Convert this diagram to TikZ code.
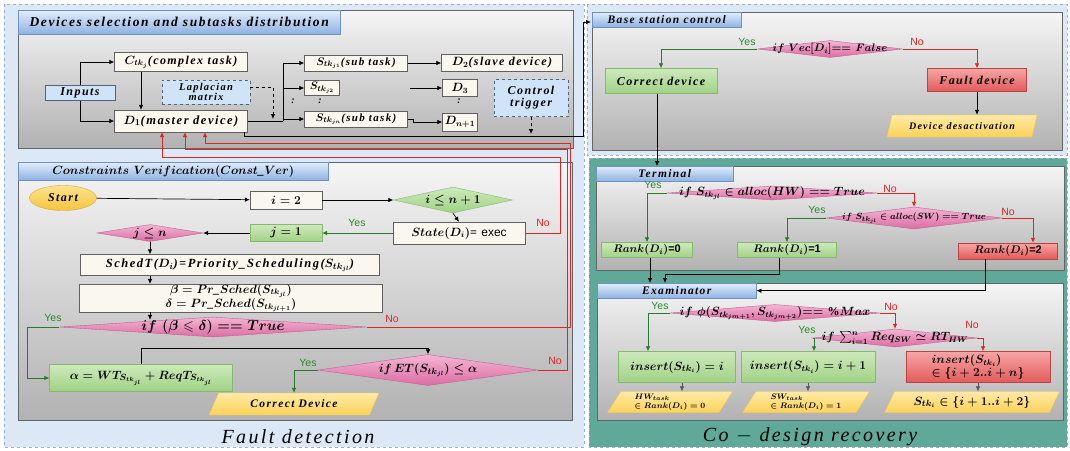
\documentclass[tikz,border=0pt]{standalone}
\usepackage{amsmath,amssymb}
\usepackage{fontspec}
\setmainfont{Liberation Serif}[LetterSpace=12]
\setsansfont{Liberation Sans}
\usetikzlibrary{shapes.geometric,arrows.meta,calc}

\definecolor{zonebg}{HTML}{DCE8F6}
\definecolor{zoneline}{HTML}{9AB0CC}
\definecolor{teal}{HTML}{60A898}
\definecolor{panelTop}{HTML}{F5F5F5}
\definecolor{panelBot}{HTML}{B2B2B2}
\definecolor{tabTop}{HTML}{E2EDFB}
\definecolor{tabBot}{HTML}{8DB2E2}
\definecolor{tabline}{HTML}{7090C0}
\definecolor{cream}{HTML}{F9F7EE}
\definecolor{boxline}{HTML}{606060}
\definecolor{lblue}{HTML}{CFE3F9}
\definecolor{lbline}{HTML}{50647E}
\definecolor{gTop}{HTML}{CDE9BB}
\definecolor{gBot}{HTML}{A0D285}
\definecolor{gline}{HTML}{86B870}
\definecolor{pTop}{HTML}{F4B5D3}
\definecolor{pBot}{HTML}{DC6CA4}
\definecolor{pline}{HTML}{C0608F}
\definecolor{rTop}{HTML}{F7A5A5}
\definecolor{rBot}{HTML}{E35A5A}
\definecolor{rline}{HTML}{B84444}
\definecolor{yTop}{HTML}{FFE9A6}
\definecolor{yBot}{HTML}{FCD258}
\definecolor{yelline}{HTML}{F0C850}
\definecolor{sTop}{HTML}{FDE38E}
\definecolor{sBot}{HTML}{F6C43E}
\definecolor{sline}{HTML}{D9A53A}
\definecolor{yesline}{HTML}{2B7A2B}
\definecolor{yestext}{HTML}{2A8A2A}
\definecolor{noline}{HTML}{E02424}

\newcommand\fsz[1]{\fontsize{#1}{#1}\selectfont\bfseries\itshape\boldmath}
\newcommand\nodefont{\fsz{12}}
\newcommand\smallfont{\fsz{8.5}}
\newcommand\tabfont{\fsz{12}}
\newcommand\ynfont{\fontsize{10.5}{11}\selectfont\sffamily}
\newcommand\bigfont{\fontsize{20}{24}\selectfont\itshape}

\tikzset{
  arr/.style={-{Latex[length=5pt,width=4.5pt]},line width=0.7pt},
  yes/.style={arr,draw=yesline},
  no/.style={arr,draw=noline},
  zone/.style={draw=zoneline,dashed,fill=zonebg},
  tzone/.style={draw=zoneline,dashed,fill=teal},
  panel/.style={draw=gray!80!black,top color=panelTop,bottom color=panelBot},
  tab/.style={rectangle,draw=tabline,top color=tabTop,bottom color=tabBot,anchor=north west,inner sep=0pt,font=\tabfont},
  box/.style={rectangle,draw=boxline,fill=cream,inner sep=1pt,font=\nodefont,align=center},
  lbox/.style={box,fill=lblue,dashed,draw=lbline},
  gbox/.style={box,draw=gline,top color=gTop,bottom color=gBot},
  rbox/.style={box,draw=rline,top color=rTop,bottom color=rBot},
  pdiam/.style={diamond,draw=pline,top color=pTop,bottom color=pBot,inner sep=0pt},
  gdiam/.style={diamond,draw=gline,top color=gTop,bottom color=gBot,inner sep=0pt},
  dtext/.style={font=\nodefont,inner sep=0pt},
  para/.style={trapezium,trapezium left angle=50,trapezium right angle=130,trapezium stretches body,draw=yelline,top color=yTop,bottom color=yBot,inner sep=0pt,font=\nodefont,align=left},
  yn/.style={font=\ynfont,inner sep=0pt},
  dots/.style={inner sep=0pt,font=\fsz{10}}
}

\begin{document}
\begin{tikzpicture}[x=1pt,y=-1pt]
  \useasboundingbox (0,0) rectangle (1070,450);

  \draw [zone] (4,4) rectangle (584,447);
  \draw [zone] (587,4) rectangle (1067,155);
  \draw [tzone] (589,158) rectangle (1067,447);
  \draw [panel] (18,10) rectangle (573,148);
  \draw [panel] (18,162) rectangle (572,420);
  \draw [panel] (592,12) rectangle (1062,150);
  \draw [panel] (596,166) rectangle (1064,270);
  \draw [panel] (597,283) rectangle (1063,420);

  \node (DevTab) [tab,minimum width=322,minimum height=24,font=\fontsize{13.5}{15}\selectfont\bfseries\itshape] at (18,10) {Devices selection and subtasks distribution};
  \node (ConTab) [tab,minimum width=310,minimum height=18,font=\fsz{12.5}] at (18,162) {$Constraints\ Verification(Const\_Ver)$};
  \node (BaseTab) [tab,minimum width=149,minimum height=15,font=\fsz{11.5}] at (592,12) {Base station control};
  \node (TermTab) [tab,minimum width=137,minimum height=15,font=\fsz{11.5}] at (596,166) {Terminal};
  \node (ExamTab) [tab,minimum width=159,minimum height=15,font=\fsz{11.5}] at (597,283) {Examinator};

  \node (FaultLbl) [font=\bigfont] at (298,437) {Fault detection};
  \node (CoLbl) [font=\bigfont] at (810,437) {Co $-$ design recovery};

  % devices selection
  \node (Inputs) [lbox,solid,minimum width=70,minimum height=15] at (80,93) {Inputs};
  \node (Ctask) [box,minimum width=133,minimum height=19] at (181,62) {$C_{tk_j}$(complex task)};
  \node (D1) [box,minimum width=133,minimum height=22,font=\fsz{12.5}] at (181,121) {$D_1$(master device)};
  \node (Lap) [lbox,minimum width=88,minimum height=24,font=\fsz{10.5}] at (206,92) {Laplacian\\matrix};
  \node (S1) [box,minimum width=103,minimum height=16,font=\fsz{11}] at (356,63) {$S_{tk_{j1}}$(sub task)};
  \node (S2) [box,minimum width=35,minimum height=15,font=\fsz{11}] at (322,88) {$S_{tk_{j2}}$};
  \node (Sn) [box,minimum width=103,minimum height=16,font=\fsz{11}] at (356,119) {$S_{tk_{jn}}$(sub task)};
  \node (D2) [box,minimum width=121,minimum height=17] at (502,63) {$D_2$(slave device)};
  \node (D3) [box,minimum width=35,minimum height=17] at (460,88) {$D_3$};
  \node (Dn1) [box,minimum width=35,minimum height=18] at (460,122) {$D_{n+1}$};
  \node (Ctrl) [lbox,minimum width=74,minimum height=37] at (531,98) {Control\\trigger};
  \node (dotsA) [dots] at (293,101) {:};
  \node (dotsB) [dots] at (320,101) {:};
  \node (dotsC) [dots] at (459,101) {:};
  \coordinate (branch) at (283,121);
  \coordinate (lapEnd) at (273,119);
  \coordinate (s2out) at (410,88);
  \coordinate (ctrlEnd) at (531,134);
  \coordinate (bsIn) at (591,22);

  \draw [arr] (Inputs.north) |- (Ctask.west);
  \draw [arr] (Inputs.south) |- (D1.west);
  \draw [arr] ([xshift=-40pt]Ctask.south) -- ([xshift=-40pt]D1.north);
  \draw [arr,dashed] ([yshift=5pt]Lap.east) -| (lapEnd);
  \draw [line width=0.7pt] (D1.east) -- (branch);
  \draw [arr] (branch) |- (S1.west);
  \draw [arr] (branch) |- (S2.west);
  \draw [arr] (branch) |- (Sn.west);
  \draw [arr] (S1) -- (D2);
  \draw [arr] (s2out) -- (D3);
  \draw [arr] (Sn.east) -- ++(6,0) |- (Dn1.west);
  \draw [arr,dashed] (Ctrl.south) -- (ctrlEnd);
  \draw [arr] ([xshift=-3pt]D1.south east) |- (583,136) |- (bsIn);

  % constraints verification
  \node (Start) [ellipse,draw=sline,top color=sTop,bottom color=sBot,minimum width=67,minimum height=25,font=\fsz{12}] at (63,198) {Start};
  \node (i2) [box,minimum width=72,minimum height=18] at (286,200) {$i=2$};
  \node (ileq) [gdiam,minimum width=119,minimum height=26] at (453,200) {};
  \node (ileqT) [dtext,font=\fsz{13}] at (ileq) {$i\leq n+1$};
  \node (State) [box,minimum width=132,minimum height=22] at (459,233) {$State(D_i)$= {\sffamily\mdseries\upshape exec}};
  \node (j1) [gbox,minimum width=72,minimum height=17] at (286,233) {$j=1$};
  \node (jleq) [pdiam,minimum width=106,minimum height=17] at (150,233) {};
  \node (jleqT) [dtext] at (jleq) {$j\leq n$};
  \node (Sched) [box,minimum width=299,minimum height=21,font=\fsz{12.5}] at (230,265) {SchedT($D_i$)=Priority\_Scheduling($S_{tk_{jl}}$)};
  \node (beta) [box,minimum width=303,minimum height=23,inner sep=0pt,font=\fontsize{12}{10.5}\selectfont\bfseries\itshape\boldmath] at (231,298) {$\beta = Pr\_Sched(S_{tk_{jl}})$\\$\delta = Pr\_Sched(S_{tk_{jl+1}})$};
  \node (betaD) [pdiam,minimum width=307,minimum height=20] at (213,327) {};
  \node (betaT) [dtext,font=\fsz{14}] at (betaD) {$if\ (\beta \leqslant \delta) == True$};
  \node (alpha) [gbox,minimum width=183,minimum height=27,font=\fsz{13}] at (141,378) {$\alpha = WT_{S_{tk_{jl}}} + ReqT_{S_{tk_{jl}}}$};
  \node (etD) [pdiam,minimum width=220,minimum height=31] at (428,370) {};
  \node (etT) [dtext,font=\fsz{12.5}] at (etD) {$if\,ET(S_{tk_{jl}}) \leq \alpha$};
  \node (corr) [para,trapezium left angle=40,trapezium right angle=140,minimum width=170,minimum height=22,font=\fsz{11.5}] at (294,404) {Correct Device};

  \draw [arr] (Start) -- (i2);
  \draw [arr] (i2) -- (ileq);
  \draw [arr] (ileq.south) -- (State.north);
  \draw [yes] (State.west) -- (j1.east);
  \draw [arr] (j1.west) -- (jleq.east);
  \draw [arr] (jleq.south) -- (jleq.south |- Sched.north);
  \draw [arr] (Sched.south -| jleq.south) -- (beta.north -| jleq.south);
  \draw [arr] (beta.south -| jleq.south) -- ($(jleq.south |- betaD.north)+(0,3)$);
  \draw [yes] (betaD.west) -- ++(-32,0) |- (alpha.west);
  \draw [arr] (alpha.north) -- ++(0,-16) -| (etD.north);
  \draw [yes] (etD.west) -| (corr.north);
  \draw [no] (State.east) -| (560,157) -| ([xshift=-19pt]D1.south);
  \draw [no] (betaD.east) -| (570,143) -| ([xshift=24pt]D1.south);
  \draw [no] (etD.east) -| (567,149) -| ([xshift=4pt]D1.south);

  \node (yesState) [yn,text=yestext] at (357,223) {Yes};
  \node (noState) [yn,text=noline] at (543,223) {No};
  \node (yesBeta) [yn,text=yestext] at (53,318) {Yes};
  \node (noBeta) [yn,text=noline] at (392,319) {No};
  \node (yesEt) [yn,text=yestext] at (308,363) {Yes};
  \node (noEt) [yn,text=noline] at (555,361) {No};

  % base station control
  \node (vecD) [pdiam,minimum width=145,minimum height=17] at (830,49) {};
  \node (vecT) [dtext,font=\fsz{11}] at (vecD) {$if\ Vec[D_i]{==}\ False$};
  \node (corrDev) [gbox,minimum width=112,minimum height=25,font=\fontsize{12}{13}\selectfont\bfseries\itshape] at (661,81) {Correct device};
  \node (faultDev) [rbox,minimum width=99,minimum height=23,font=\fontsize{12}{13}\selectfont\bfseries\itshape] at (977,80) {Fault device};
  \node (desact) [para,trapezium left angle=55,trapezium right angle=125,minimum width=150,minimum height=22,font=\fontsize{10}{11}\selectfont\bfseries\itshape] at (962,126) {Device desactivation};
  \draw [yes] (vecD.west) -| (corrDev.north);
  \draw [no] (vecD.east) -| (faultDev.north);
  \draw [arr] (faultDev.south) -- (faultDev.south |- desact.north);
  \draw [arr] ([xshift=-4pt]corrDev.south) -- ([xshift=-4pt]corrDev.south |- TermTab.north);
  \node (yesVec) [yn,text=yestext] at (747,42) {Yes};
  \node (noVec) [yn,text=noline] at (917,42) {No};

  % terminal
  \node (hwD) [pdiam,minimum width=210,minimum height=14] at (772,193) {};
  \node (hwT) [dtext,font=\fsz{11.5}] at (hwD) {$if\ S_{tk_{jl}} \in alloc(HW) == True$};
  \node (swD) [pdiam,minimum width=175,minimum height=22] at (914,218) {};
  \node (swT) [dtext,font=\fsz{9.5}] at (swD) {$if\ S_{tk_{jl}} \in alloc(SW) == True$};
  \node (rank0) [gbox,minimum width=91,minimum height=15,font=\fsz{11}] at (647,250) {$Rank(D_i)${\sffamily\upshape =0}};
  \node (rank1) [gbox,minimum width=99,minimum height=15,font=\fsz{11}] at (787,250) {$Rank(D_i)${\sffamily\upshape =1}};
  \node (rank2) [rbox,minimum width=99,minimum height=16,font=\fsz{11}] at (1008,251) {$Rank(D_i)${\sffamily\upshape =2}};
  \coordinate (exIn) at (665,283);
  \draw [yes] (hwD.west) -| (rank0.north);
  \draw [no] (hwD.east) -| (swD.north);
  \draw [yes] (swD.west) -| (rank1.north);
  \draw [no] (swD.east) -| ([xshift=25pt]rank2.north);
  \draw [arr] ([xshift=3pt]rank0.south) -- ([xshift=3pt]rank0.south |- ExamTab.north);
  \draw [arr] ([xshift=-8pt]rank1.south) -- ++(0,17) -| (exIn);
  \draw [arr] ([xshift=-23pt]rank2.south) |- (ExamTab.east);
  \node (yesHw) [yn,text=yestext] at (653,185) {Yes};
  \node (noHw) [yn,text=noline] at (890,189) {No};
  \node (yesSw) [yn,text=yestext] at (817,210) {Yes};
  \node (noSw) [yn,text=noline] at (1008,212) {No};

  % examinator
  \node (phiD) [pdiam,minimum width=210,minimum height=17] at (775,313) {};
  \node (phiT) [dtext,font=\fsz{12}] at (phiD) {$if\ \phi(S_{tk_{jm+1}}, S_{tk_{jm+2}}){==}\ \%Max$};
  \node (sumD) [pdiam,minimum width=164,minimum height=18] at (895,338) {};
  \node (sumT) [dtext,font=\fsz{12}] at (sumD) {$if\,\sum_{i=1}^{n} Req_{SW} \simeq RT_{HW}$};
  \node (ins0) [gbox,minimum width=117,minimum height=31,font=\fsz{12.5}] at (677,367) {$insert(S_{tk_i}) = i$};
  \node (ins1) [gbox,minimum width=134,minimum height=31] at (808,367) {$insert(S_{tk_i}) = i+1$};
  \node (ins2) [rbox,minimum width=144,minimum height=31,align=left] at (978,367) {$insert(S_{tk_i})$\\$\in \{i+2..i+n\}$};
  \node (hwP) [para,minimum width=125,minimum height=21,font=\smallfont] at (670,402) {$HW_{task}$\\$\in Rank(D_i) = 0$};
  \node (swP) [para,minimum width=127,minimum height=21,font=\smallfont] at (806,402) {$SW_{task}$\\$\in Rank(D_i) = 1$};
  \node (stP) [para,minimum width=175,minimum height=21,font=\fsz{13}] at (972,402) {$S_{tk_i} \in \{i+1..i+2\}$};
  \draw [yes] (phiD.west) -| ([xshift=-29pt]ins0.north);
  \draw [no] (phiD.east) -| (sumD.north);
  \draw [yes] (sumD.west) -| ([xshift=6pt]ins1.north);
  \draw [no] (sumD.east) -| ([xshift=5pt]ins2.north);
  \draw [arr,draw=gray!70!black,line width=0.5pt] ([xshift=5pt]ins0.south) -- ([xshift=5pt]ins0.south |- hwP.north);
  \draw [arr,draw=gray!70!black,line width=0.5pt] (ins1.south) -- (ins1.south |- swP.north);
  \draw [arr,draw=gray!70!black,line width=0.5pt] (ins2.south) -- (ins2.south |- stP.north);
  \node (yesPhi) [yn,text=yestext] at (660,306) {Yes};
  \node (noPhi) [yn,text=noline] at (891,307) {No};
  \node (yesSum) [yn,text=yestext] at (807,330) {Yes};
  \node (noSum) [yn,text=noline] at (972,325) {No};
\end{tikzpicture}
\end{document}
